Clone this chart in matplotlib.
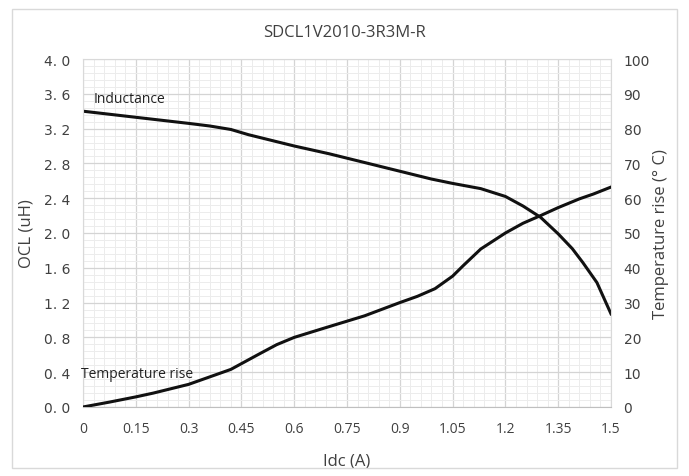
import matplotlib.pyplot as plt
import numpy as np
from matplotlib.patches import Rectangle
from matplotlib.ticker import MultipleLocator

# values
idc_l = [0.0, 0.15, 0.3, 0.36, 0.42, 0.47, 0.53, 0.6, 0.7, 0.75, 0.8, 0.9, 0.99, 1.05, 1.13,
         1.2, 1.25, 1.3, 1.35, 1.39, 1.42, 1.46, 1.5]
ocl = [3.40, 3.33, 3.26, 3.23, 3.19, 3.13, 3.07, 3.00, 2.91, 2.86, 2.81, 2.71, 2.62, 2.57, 2.51,
       2.42, 2.31, 2.18, 1.99, 1.82, 1.66, 1.43, 1.07]

idc_t = [0.0, 0.075, 0.15, 0.2, 0.3, 0.42, 0.5, 0.55, 0.6, 0.68, 0.8, 0.9, 0.95, 1.0, 1.05,
         1.08, 1.13, 1.2, 1.25, 1.3, 1.35, 1.41, 1.45, 1.5]
temp = [0.0, 1.4, 2.9, 4.0, 6.5, 10.8, 15.2, 17.9, 20.0, 22.5, 26.2, 30.0, 31.8, 34.0, 37.6,
        40.6, 45.4, 50.0, 52.8, 55.0, 57.3, 59.8, 61.2, 63.2]

x_ticks = [0, 0.15, 0.3, 0.45, 0.6, 0.75, 0.9, 1.05, 1.2, 1.35, 1.5]
x_labels = ['0', '0.15', '0.3', '0.45', '0.6', '0.75', '0.9', '1.05', '1.2', '1.35', '1.5']
y_ticks = [0.0, 0.4, 0.8, 1.2, 1.6, 2.0, 2.4, 2.8, 3.2, 3.6, 4.0]
y_labels = ['0. 0', '0. 4', '0. 8', '1. 2', '1. 6', '2. 0', '2. 4', '2. 8', '3. 2', '3. 6', '4. 0']
t_ticks = [0, 10, 20, 30, 40, 50, 60, 70, 80, 90, 100]

plt.rcParams['font.family'] = ['Open Sans', 'DejaVu Sans']
txt = '#404040'

fig = plt.figure(figsize=(6.89, 4.77), dpi=100)
fig.patches.append(Rectangle((0.018, 0.016), 0.965, 0.962, transform=fig.transFigure,
                             fill=False, edgecolor='#d9d9d9', lw=1))

ax = fig.add_axes([0.1205, 0.1447, 0.7663, 0.7295])
ax.set_xlim(0, 1.5)
ax.set_ylim(0, 4.0)
ax.xaxis.set_minor_locator(MultipleLocator(0.03))
ax.yaxis.set_minor_locator(MultipleLocator(0.08))
ax.grid(which='major', color='#d4d4d4', lw=0.9)
ax.grid(which='minor', color='#ececec', lw=0.7)
ax.set_axisbelow(True)
for s in ax.spines.values():
    s.set_color('#d9d9d9')
ax.spines['bottom'].set_color('#bfbfbf')

ax.set_xticks(x_ticks)
ax.set_xticklabels(x_labels)
ax.set_yticks(y_ticks)
ax.set_yticklabels(y_labels, family='DejaVu Sans')
ax.tick_params(which='both', length=0, colors=txt, labelsize=10)
ax.tick_params(axis='y', pad=9)
ax.tick_params(axis='x', pad=10)

ax.plot(idc_l, ocl, color='#111111', lw=2.2, solid_joinstyle='round')
ax.set_xlabel('Idc (A)', fontsize=12, color=txt, labelpad=12)
ax.set_ylabel('OCL (uH)', fontsize=12, color=txt, labelpad=7)

ax2 = ax.twinx()
ax2.set_ylim(0, 100)
ax2.set_yticks(t_ticks)
ax2.set_yticklabels([str(t) for t in t_ticks], family='DejaVu Sans')
ax2.tick_params(length=0, colors=txt, labelsize=10, pad=9)
for s in ax2.spines.values():
    s.set_visible(False)
ax2.plot(idc_t, temp, color='#111111', lw=2.2, solid_joinstyle='round')
ax2.set_ylabel('Temperature rise (° C)', fontsize=12, color=txt, labelpad=2)

ax.text(0.03, 3.55, 'Inductance', fontsize=10, color='#222222', va='center', ha='left')
ax.text(-0.005, 0.38, 'Temperature rise', fontsize=10, color='#222222', va='center', ha='left')

fig.text(0.5, 0.93, 'SDCL1V2010-3R3M-R', ha='center', va='center', fontsize=12, color=txt)

fig.savefig('out.png', dpi=100)
